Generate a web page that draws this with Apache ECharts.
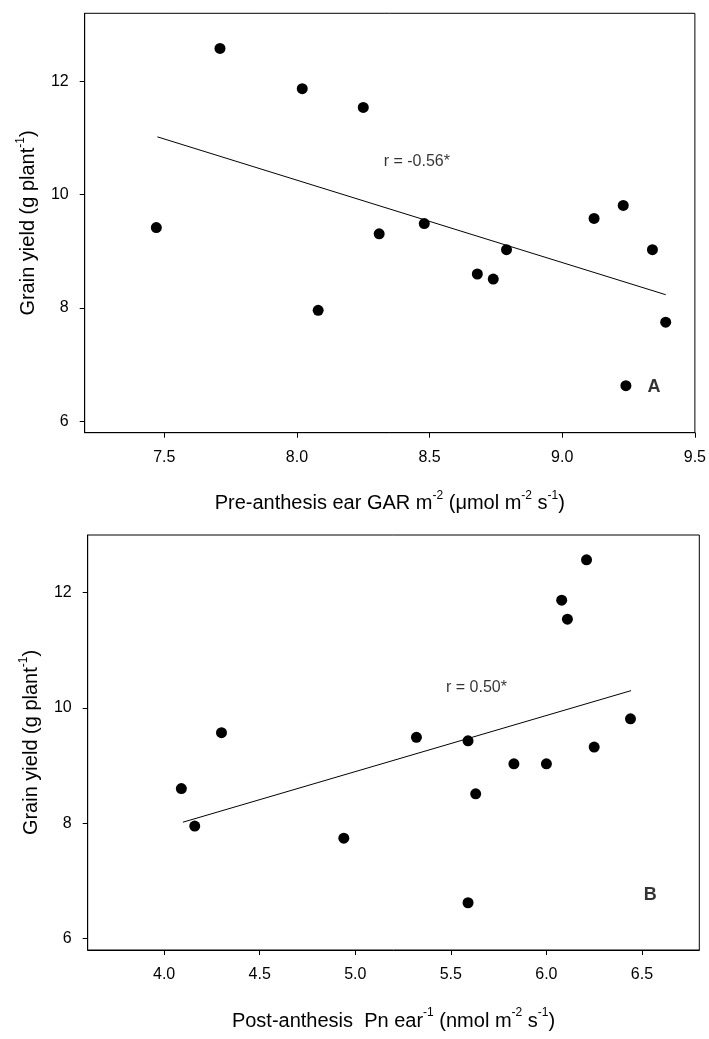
<!DOCTYPE html>
<html>
<head>
<meta charset="utf-8">
<script src="https://cdn.jsdelivr.net/npm/echarts@6/dist/echarts.min.js"></script>
<style>
  html, body { margin: 0; padding: 0; background: #fff; }
  #main { width: 709px; height: 1039px; }
</style>
</head>
<body>
<div id="main"></div>
<script>
// panel A: pre-anthesis ear GAR vs grain yield
var garX = [7.47, 7.71, 8.02, 8.08, 8.25, 8.31, 8.48, 8.68, 8.74, 8.79, 9.12, 9.23, 9.34, 9.39, 9.24];
var garY = [9.42, 12.58, 11.87, 7.96, 11.54, 9.31, 9.49, 8.60, 8.51, 9.03, 9.58, 9.81, 9.03, 7.75, 6.63];
var garFit = [[7.474, 11.02], [9.39, 8.235]];

// panel B: post-anthesis Pn ear vs grain yield
var pnX = [4.09, 4.16, 4.30, 4.94, 5.32, 5.59, 5.63, 5.83, 6.00, 6.08, 6.11, 6.21, 6.25, 6.44, 5.59];
var pnY = [8.60, 7.95, 9.57, 7.74, 9.49, 9.43, 8.51, 9.03, 9.03, 11.87, 11.54, 12.57, 9.32, 9.81, 6.62];
var pnFit = [[4.098, 8.017], [6.443, 10.30]];

var yTicks = [6, 8, 10, 12];
var garTicks = [7.5, 8.0, 8.5, 9.0, 9.5];
var pnTicks = [4.0, 4.5, 5.0, 5.5, 6.0, 6.5];

var font = 'Liberation Sans, Arial, sans-serif';

function pairs(xs, ys) {
    var out = [];
    for (var i = 0; i < xs.length; i++) {
        out.push([xs[i], ys[i]]);
    }
    return out;
}

var richName = {
    n: { fontSize: 20, lineHeight: 28, color: '#000', fontFamily: font },
    s: { fontSize: 12, lineHeight: 14, verticalAlign: 'top', color: '#000', fontFamily: font }
};

function xAxisCfg(idx, min, max, ticks, name) {
    return {
        type: 'value', gridIndex: idx, min: min, max: max,
        splitLine: { show: false },
        axisLine: { show: true, onZero: false, lineStyle: { color: '#000', width: 1 } },
        axisTick: { show: true, length: 5, customValues: ticks, lineStyle: { color: '#000' } },
        axisLabel: {
            customValues: ticks, margin: 17, fontSize: 16, color: '#000', fontFamily: font,
            formatter: function (v) { return v.toFixed(1); }
        },
        name: name, nameLocation: 'middle', nameGap: 57,
        nameTextStyle: { rich: richName }
    };
}

function yAxisCfg(idx, min, max) {
    return {
        type: 'value', gridIndex: idx, min: min, max: max,
        splitLine: { show: false },
        axisLine: { show: true, onZero: false, lineStyle: { color: '#000', width: 1 } },
        axisTick: { show: true, length: 5, customValues: yTicks, lineStyle: { color: '#000' } },
        axisLabel: {
            customValues: yTicks, margin: 16, fontSize: 16, color: '#000', fontFamily: font
        },
        name: '{n|Grain yield (g plant}{s|-1}{n|)}', nameLocation: 'middle', nameGap: 42,
        nameRotate: 90,
        nameTextStyle: { rich: richName }
    };
}

function noteSeries(idx, pos, text, bold) {
    return {
        type: 'scatter', xAxisIndex: idx, yAxisIndex: idx,
        symbolSize: 0, silent: true,
        data: [pos],
        label: {
            show: true, position: 'inside', formatter: text,
            fontSize: bold ? 18 : 16, fontWeight: bold ? 'bold' : 'normal',
            color: '#000', fontFamily: font
        }
    };
}

var myChart = echarts.init(document.getElementById('main'));

myChart.setOption({
    backgroundColor: '#fff',
    animation: false,
    grid: [
        { left: 84.7, top: 13.3, width: 611, height: 419.4, show: true, borderColor: '#000', borderWidth: 1 },
        { left: 87.7, top: 535, width: 611.6, height: 415, show: true, borderColor: '#000', borderWidth: 1 }
    ],
    xAxis: [
        xAxisCfg(0, 7.2, 9.5, garTicks,
            '{n|Pre-anthesis ear GAR m}{s|-2}{n| (μmol m}{s|-2}{n| s}{s|-1}{n|)}'),
        xAxisCfg(1, 3.6, 6.8, pnTicks,
            '{n|Post-anthesis  Pn ear}{s|-1}{n| (nmol m}{s|-2}{n| s}{s|-1}{n|)}')
    ],
    yAxis: [
        yAxisCfg(0, 5.8, 13.2),
        yAxisCfg(1, 5.8, 13.0)
    ],
    series: [
        {
            type: 'scatter', xAxisIndex: 0, yAxisIndex: 0,
            symbolSize: 11, itemStyle: { color: '#000', opacity: 1 },
            data: pairs(garX, garY)
        },
        {
            type: 'line', xAxisIndex: 0, yAxisIndex: 0,
            showSymbol: false, lineStyle: { color: '#000', width: 1 },
            data: garFit
        },
        noteSeries(0, [8.452, 10.59], 'r = -0.56*', false),
        noteSeries(0, [9.346, 6.61], 'A', true),
        {
            type: 'scatter', xAxisIndex: 1, yAxisIndex: 1,
            symbolSize: 11, itemStyle: { color: '#000', opacity: 1 },
            data: pairs(pnX, pnY)
        },
        {
            type: 'line', xAxisIndex: 1, yAxisIndex: 1,
            showSymbol: false, lineStyle: { color: '#000', width: 1 },
            data: pnFit
        },
        noteSeries(1, [5.634, 10.35], 'r = 0.50*', false),
        noteSeries(1, [6.543, 6.754], 'B', true)
    ]
});
</script>
</body>
</html>
